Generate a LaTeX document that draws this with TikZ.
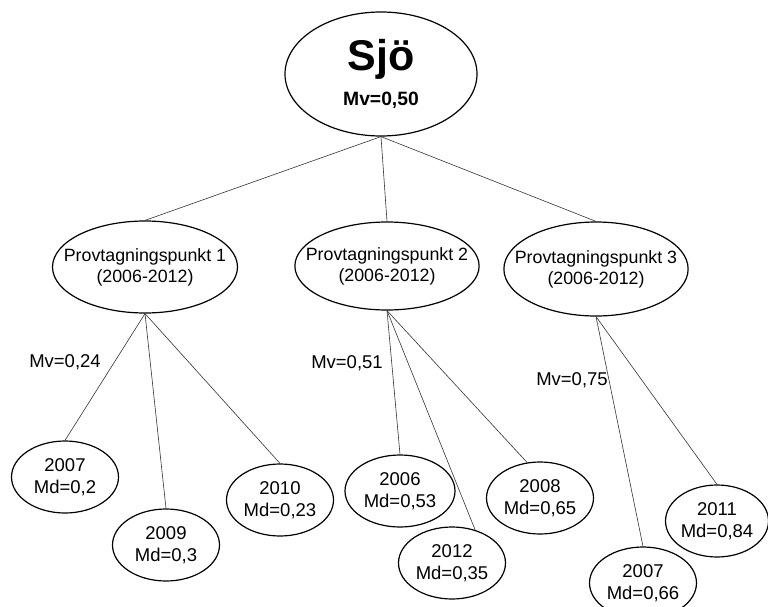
\documentclass[tikz,border=0pt]{standalone}
\usepackage{fontspec}
\setmainfont{Liberation Sans}
\usetikzlibrary{shapes.geometric}

\begin{document}
\begin{tikzpicture}[x=1pt,y=-1pt,
  every node/.style={font=\fontsize{18.5}{21.5}\selectfont,align=center,inner sep=0pt},
  oval/.style={draw,ellipse,line width=1.2pt,minimum width=107pt,minimum height=72pt},
  punkt/.style={oval,inner xsep=-16pt,font=\fontsize{17.8}{21}\selectfont},
  edge/.style={line width=0.6pt,black!80}]
\useasboundingbox (0,0) rectangle (768,607);

\node[oval,minimum width=192pt,minimum height=124pt] (sjo) at (381,74) {{\fontsize{43}{44}\selectfont\bfseries Sjö}\\[12pt]{\fontsize{19.3}{21}\selectfont\bfseries Mv=0,50}};

\node[punkt,minimum width=185pt,minimum height=92pt] (p1) at (145,267) {Provtagningspunkt 1\\(2006-2012)};
\node[punkt,minimum width=182pt,minimum height=88pt] (p2) at (387,266) {Provtagningspunkt 2\\(2006-2012)};
\node[punkt,minimum width=183pt,minimum height=94pt] (p3) at (596,269) {Provtagningspunkt 3\\(2006-2012)};

\node (mv1) at (65,362) {Mv=0,24};
\node (mv2) at (347,363) {Mv=0,51};
\node (mv3) at (572,380) {Mv=0,75};

\node[oval] (a1) at (65,477) {2007\\Md=0,2};
\node[oval] (a2) at (166,545) {2009\\Md=0,3};
\node[oval] (a3) at (280,500) {2010\\Md=0,23};
\node[oval,minimum width=110pt] (b1) at (400,491) {2006\\Md=0,53};
\node[oval] (b2) at (452,563) {2012\\Md=0,35};
\node[oval] (b3) at (540,498) {2008\\Md=0,65};
\node[oval] (c1) at (643,583) {2007\\Md=0,66};
\node[oval,minimum width=103pt] (c2) at (717,521) {2011\\Md=0,84};

\draw[edge](sjo.south)--(p1.north);
\draw[edge](sjo.south)--(p2.north);
\draw[edge](sjo.south)--(p3.north);
\draw[edge](p1.south)--(a1.north);
\draw[edge](p1.south)--(a2.north);
\draw[edge](p1.south)--(a3.north);
\draw[edge](p2.south)--(b1.north);
\draw[edge](p2.south)--(b2.55);
\draw[edge](p2.south)--(b3.110);
\draw[edge](p3.south)--(c1.north);
\draw[edge](p3.south)--(c2.north);
\end{tikzpicture}
\end{document}
